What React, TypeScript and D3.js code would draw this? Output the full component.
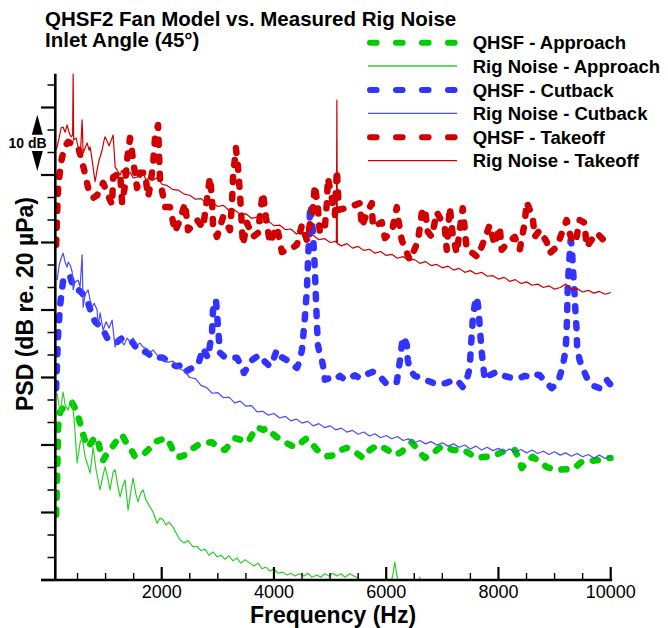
import React from "react";
import * as d3 from "d3";

// ---------- data: [frequency Hz, PSD dB (relative)] ----------
const approachQhsf: [number, number][] = [
  [119, 11.6], [137, 18.3], [146, 22.8], [155, 27.2], [190, 29.9], [279, 31.1], [404, 31.5], [475, 30.2],
  [546, 27.9], [618, 25.2], [689, 23.6], [778, 24.9], [849, 25.4], [902, 23.1], [956, 21.3], [1045, 22.8],
  [1116, 23.6], [1205, 24.9], [1294, 25.8], [1365, 24.5], [1436, 23.5], [1525, 21.9], [1614, 22.2], [1703, 22.6],
  [1792, 23.5], [1846, 24.4], [1971, 24.9], [2095, 25.2], [2166, 23.8], [2237, 22.2], [2326, 21.9], [2415, 22.2],
  [2540, 23.3], [2647, 24.0], [2771, 24.4], [2896, 24.5], [3003, 23.6], [3127, 23.1], [3216, 24.2], [3305, 25.2],
  [3412, 24.9], [3537, 24.5], [3626, 26.1], [3697, 27.2], [3804, 26.7], [3893, 27.0], [3964, 26.1], [4053, 25.4],
  [4142, 24.9], [4249, 24.2], [4373, 23.6], [4480, 24.4], [4587, 25.2], [4694, 24.0], [4818, 22.6], [4943, 22.0],
  [5086, 22.2], [5192, 23.1], [5299, 23.5], [5442, 22.8], [5584, 21.7], [5708, 23.1], [5851, 24.0], [5958, 23.5],
  [6029, 23.1], [6153, 22.2], [6278, 22.8], [6367, 23.8], [6456, 24.5], [6563, 23.1], [6687, 21.7], [6794, 22.2],
  [6901, 23.1], [6990, 23.8], [7079, 23.6], [7186, 23.1], [7275, 23.1], [7364, 22.6], [7435, 22.8], [7524, 22.2],
  [7613, 21.7], [7755, 21.9], [7880, 21.9], [7986, 22.4], [8076, 22.8], [8183, 22.9], [8290, 23.1], [8361, 21.7],
  [8414, 19.9], [8503, 21.0], [8610, 21.9], [8735, 21.0], [8859, 20.1], [8966, 19.7], [9091, 19.6], [9197, 19.7],
  [9269, 19.6], [9375, 20.1], [9482, 21.0], [9624, 21.1], [9731, 21.3], [9838, 21.3], [9945, 21.7], [9998, 21.7],
];

const approachRig: [number, number][] = [
  [137, 33.2], [155, 32.0], [190, 29.7], [226, 32.4], [244, 33.4], [279, 31.1], [333, 30.2], [368, 31.6],
  [404, 32.0], [440, 28.4], [493, 20.8], [546, 24.4], [582, 25.4], [635, 21.9], [671, 20.8], [724, 19.0],
  [778, 23.6], [831, 19.6], [902, 16.0], [956, 18.7], [991, 20.1], [1045, 17.8], [1080, 16.0], [1134, 19.2],
  [1170, 19.6], [1223, 16.4], [1259, 14.8], [1312, 16.9], [1347, 17.8], [1401, 12.4], [1454, 16.0], [1490, 18.1],
  [1543, 15.1], [1579, 13.9], [1632, 15.6], [1668, 16.0], [1721, 14.2], [1792, 13.0], [1846, 12.1], [1917, 10.1],
  [1971, 11.0], [2024, 10.7], [2077, 9.8], [2130, 10.3], [2202, 9.4], [2255, 8.4], [2326, 7.1], [2398, 6.6],
  [2469, 7.0], [2558, 5.9], [2629, 6.0], [2700, 5.2], [2771, 5.5], [2842, 4.4], [2914, 5.0], [2985, 4.1],
  [3056, 4.4], [3127, 3.7], [3198, 4.3], [3270, 3.4], [3341, 3.9], [3412, 3.0], [3483, 3.6], [3572, 3.0],
  [3644, 2.5], [3715, 3.0], [3786, 2.0], [3857, 2.3], [3928, 1.6], [4000, 2.0], [4071, 1.2], [4160, 1.4],
  [4231, 0.9], [4302, 1.2], [4373, 0.7], [4462, 1.1], [4534, 0.7], [4605, 1.2], [4676, 0.5], [4765, 0.9],
  [4836, 0.5], [4907, 1.1], [4978, 0.7], [5050, 1.2], [5121, 0.7], [5192, 1.1], [5264, 0.5], [5353, 1.1],
  [5424, 0.7], [5495, 0.4], [5566, -0.5], [5637, -1.8], [6064, -1.4], [6118, 0.9], [6153, 3.2], [6189, 0.9],
  [6242, -1.4], [6563, -1.8], [6598, 0.5], [6634, -1.8], [6954, -2.1], [10000, -2.0],
];

const cutbackQhsf: [number, number][] = [
  [119, 34.1], [137, 39.1], [155, 43.9], [190, 48.9], [244, 53.3], [315, 54.2], [368, 54.0], [422, 52.1],
  [511, 51.6], [582, 51.0], [689, 49.2], [760, 47.1], [813, 45.9], [938, 44.8], [1045, 42.7], [1134, 42.3],
  [1205, 42.3], [1294, 43.0], [1383, 42.7], [1472, 42.3], [1579, 40.9], [1668, 40.7], [1739, 40.4], [1846, 39.5],
  [1935, 39.6], [2024, 39.5], [2148, 38.6], [2255, 38.0], [2362, 38.2], [2415, 37.0], [2504, 37.5], [2593, 37.9],
  [2647, 38.2], [2736, 41.2], [2825, 39.5], [2860, 41.8], [2896, 43.9], [2914, 48.0], [2967, 49.8], [3003, 45.0],
  [3038, 40.4], [3127, 39.6], [3252, 39.5], [3341, 39.5], [3430, 37.9], [3465, 36.8], [3537, 38.0], [3608, 39.1],
  [3679, 39.6], [3750, 40.0], [3839, 38.8], [3928, 38.0], [4000, 39.5], [4053, 40.9], [4142, 39.6], [4231, 39.1],
  [4320, 38.2], [4409, 37.7], [4462, 39.1], [4498, 40.9], [4516, 42.7], [4552, 46.8], [4587, 51.6], [4605, 56.4],
  [4623, 60.4], [4640, 65.2], [4658, 66.7], [4694, 61.7], [4712, 58.7], [4729, 55.1], [4747, 50.3], [4765, 45.7],
  [4783, 41.8], [4818, 40.0], [4854, 39.1], [4889, 37.3], [4907, 35.6], [4996, 35.9], [5086, 35.6], [5175, 36.3],
  [5264, 35.6], [5353, 35.9], [5442, 36.4], [5531, 35.9], [5655, 36.6], [5762, 37.0], [5851, 36.6], [5940, 35.6],
  [6011, 34.8], [6100, 35.0], [6189, 35.2], [6242, 38.8], [6278, 41.8], [6296, 43.2], [6331, 42.7], [6367, 41.8],
  [6385, 39.1], [6420, 37.3], [6509, 36.3], [6634, 35.9], [6741, 35.4], [6848, 35.0], [6954, 34.8], [7061, 35.0],
  [7168, 35.4], [7257, 35.6], [7364, 34.3], [7435, 35.6], [7488, 37.7], [7506, 40.9], [7524, 43.6], [7542, 46.2],
  [7577, 48.9], [7613, 50.3], [7648, 48.0], [7666, 45.0], [7684, 42.7], [7702, 40.5], [7737, 37.3], [7755, 35.6],
  [7844, 36.4], [7969, 37.0], [8076, 36.4], [8165, 36.1], [8254, 35.9], [8379, 35.9], [8468, 36.3], [8557, 36.1],
  [8646, 36.6], [8735, 36.4], [8842, 35.2], [8948, 34.1], [9055, 35.0], [9144, 37.9], [9197, 40.9], [9215, 44.4],
  [9224, 47.5], [9233, 51.6], [9251, 55.1], [9269, 57.8], [9286, 60.4], [9304, 59.6], [9322, 56.5], [9340, 53.3],
  [9357, 50.7], [9375, 47.1], [9393, 44.4], [9402, 41.4], [9446, 39.1], [9517, 37.3], [9589, 35.6], [9695, 34.5],
  [9802, 34.1], [9873, 34.8], [9927, 35.6], [9998, 34.7],
];

const cutbackRig: [number, number][] = [
  [137, 53.3], [173, 56.0], [208, 57.2], [244, 58.1], [279, 56.5], [315, 55.6], [333, 56.5], [368, 56.0],
  [404, 54.8], [422, 51.6], [457, 53.0], [511, 53.3], [546, 52.1], [582, 57.8], [600, 48.5], [635, 50.7],
  [689, 51.6], [724, 49.8], [760, 48.5], [796, 49.2], [849, 48.0], [867, 45.0], [902, 47.5], [956, 44.4],
  [1009, 45.9], [1063, 44.8], [1116, 46.2], [1170, 41.4], [1205, 43.0], [1259, 42.7], [1330, 41.8], [1383, 43.0],
  [1436, 42.3], [1490, 43.0], [1561, 41.8], [1614, 42.1], [1668, 41.4], [1739, 41.1], [1792, 40.5], [1846, 40.9],
  [1917, 40.0], [2000, 39.6], [2100, 38.7], [2200, 38.9], [2300, 37.6], [2400, 37.2], [2500, 36.0], [2600, 35.8],
  [2700, 34.6], [2800, 34.2], [2900, 33.2], [3000, 33.3], [3100, 32.4], [3200, 32.5], [3300, 31.5], [3400, 31.8],
  [3500, 30.9], [3600, 31.0], [3700, 29.9], [3800, 30.0], [3900, 29.3], [4000, 29.6], [4100, 28.8], [4200, 29.1],
  [4300, 28.3], [4400, 28.6], [4500, 27.9], [4600, 28.2], [4700, 27.4], [4800, 27.8], [4900, 27.1], [5000, 27.4],
  [5100, 26.7], [5200, 27.0], [5300, 26.3], [5400, 26.6], [5500, 25.9], [5600, 26.3], [5700, 25.6], [5800, 26.0],
  [5900, 25.3], [6000, 25.7], [6100, 25.1], [6200, 25.5], [6300, 24.8], [6400, 25.1], [6500, 24.4], [6600, 24.8],
  [6700, 24.2], [6800, 24.6], [6900, 24.0], [7000, 24.4], [7100, 23.8], [7200, 24.2], [7300, 23.6], [7400, 24.0],
  [7500, 23.3], [7600, 23.8], [7700, 23.1], [7800, 23.6], [7900, 23.0], [8000, 23.4], [8100, 22.8], [8200, 23.3],
  [8300, 22.7], [8400, 23.2], [8500, 22.6], [8600, 23.1], [8700, 22.5], [8800, 22.9], [8900, 22.3], [9000, 22.8],
  [9100, 22.2], [9200, 22.6], [9300, 22.0], [9400, 22.5], [9500, 21.9], [9600, 22.3], [9700, 21.7], [9800, 22.2],
  [9900, 21.6], [10000, 22.0],
];

const takeoffQhsf: [number, number][] = [
  [119, 59.6], [137, 65.2], [155, 69.9], [208, 74.3], [262, 76.8], [333, 77.9], [511, 77.0], [582, 74.3],
  [618, 72.9], [689, 69.7], [778, 67.9], [849, 68.4], [956, 70.6], [1045, 68.4], [1116, 66.7], [1134, 71.6],
  [1259, 72.4], [1294, 67.0], [1347, 70.2], [1383, 74.7], [1436, 78.6], [1490, 74.7], [1561, 69.7], [1614, 72.4],
  [1703, 72.4], [1757, 68.1], [1792, 69.9], [1846, 73.8], [1882, 78.8], [1935, 80.9], [1953, 75.6], [1971, 71.1],
  [2059, 66.3], [2148, 66.3], [2237, 61.9], [2326, 64.0], [2415, 67.0], [2469, 62.2], [2558, 63.1], [2629, 64.0],
  [2736, 62.6], [2860, 71.6], [2896, 67.9], [2914, 63.1], [2985, 61.0], [3092, 64.5], [3216, 62.2], [3252, 67.0],
  [3270, 71.5], [3323, 76.8], [3359, 73.4], [3394, 68.8], [3448, 59.6], [3519, 63.5], [3626, 61.0], [3715, 61.7],
  [3768, 66.3], [3804, 68.8], [3857, 64.5], [3928, 59.9], [4053, 62.8], [4142, 58.3], [4320, 59.0], [4409, 59.6],
  [4498, 63.1], [4587, 60.4], [4694, 66.1], [4729, 70.2], [4783, 66.1], [4818, 61.7], [4872, 62.2], [4907, 62.8],
  [4943, 67.0], [4961, 71.5], [5032, 67.9], [5086, 64.9], [5121, 72.9], [5157, 65.8], [5353, 66.3], [5531, 67.0],
  [5566, 62.8], [5655, 65.2], [5744, 67.0], [5762, 62.8], [5922, 63.6], [5976, 60.8], [6100, 61.9], [6189, 66.3],
  [6207, 64.5], [6278, 60.4], [6420, 56.9], [6563, 60.1], [6634, 65.2], [6687, 66.1], [6741, 61.9], [6812, 61.0],
  [6901, 65.4], [7043, 62.8], [7079, 58.7], [7132, 66.3], [7186, 61.3], [7257, 58.1], [7310, 62.2], [7364, 66.1],
  [7435, 58.7], [7542, 58.1], [7631, 57.4], [7844, 63.1], [7933, 59.6], [8022, 62.8], [8058, 58.7], [8165, 59.9],
  [8290, 61.0], [8379, 58.7], [8468, 63.5], [8503, 67.2], [8610, 64.5], [8646, 61.0], [8735, 62.2], [8859, 60.1],
  [8913, 58.1], [9037, 59.2], [9215, 64.0], [9269, 61.7], [9322, 59.9], [9393, 61.0], [9446, 64.0], [9535, 63.5],
  [9571, 59.2], [9749, 61.7], [9927, 59.9], [9998, 59.9],
];

const takeoffRig: [number, number][] = [
  [110, 76.4], [137, 77.0], [173, 78.6], [208, 80.4], [244, 80.5], [279, 79.6], [315, 80.9], [351, 79.5],
  [386, 78.8], [413, 79.1], [422, 90.1], [431, 78.2], [475, 78.6], [493, 77.7], [529, 76.4], [546, 75.2],
  [564, 78.2], [582, 81.8], [600, 75.9], [635, 76.8], [671, 77.7], [707, 76.4], [724, 77.0], [760, 74.7],
  [796, 72.0], [813, 70.8], [849, 72.9], [885, 74.7], [902, 75.2], [938, 76.4], [974, 78.2], [991, 78.8],
  [1027, 78.0], [1063, 77.2], [1080, 77.7], [1116, 78.6], [1134, 79.1], [1152, 76.4], [1170, 73.4], [1205, 72.9],
  [1259, 72.0], [1294, 72.9], [1330, 71.5], [1383, 71.6], [1436, 72.5], [1490, 71.5], [1561, 71.6], [1614, 72.9],
  [1668, 72.4], [1721, 71.1], [1792, 71.6], [1846, 71.1], [1917, 71.5], [2000, 70.4], [2100, 70.1], [2200, 69.4],
  [2300, 69.3], [2400, 68.6], [2500, 68.4], [2600, 67.7], [2700, 67.8], [2800, 67.0], [2900, 67.1], [3000, 66.4],
  [3100, 66.6], [3200, 65.7], [3300, 65.8], [3400, 65.0], [3500, 65.1], [3600, 64.3], [3700, 64.5], [3800, 63.6],
  [3900, 63.8], [4000, 63.0], [4100, 63.1], [4200, 62.3], [4300, 62.4], [4400, 61.5], [4500, 61.9], [4600, 61.0],
  [4700, 61.3], [4800, 60.5], [4900, 60.7], [5000, 60.0], [5100, 60.2], [5112, 60.0], [5121, 85.3], [5130, 59.8],
  [5200, 59.4], [5300, 59.8], [5400, 59.0], [5500, 59.3], [5600, 58.6], [5700, 58.8], [5800, 58.1], [5900, 58.4],
  [6000, 57.7], [6100, 57.9], [6200, 57.2], [6300, 57.5], [6400, 56.8], [6500, 57.0], [6600, 56.3], [6700, 56.6],
  [6800, 55.9], [6900, 56.1], [7000, 55.5], [7100, 55.8], [7200, 55.1], [7300, 55.4], [7400, 54.7], [7500, 55.0],
  [7600, 54.4], [7700, 54.7], [7800, 54.0], [7900, 54.1], [8000, 53.5], [8100, 53.8], [8200, 53.1], [8300, 53.4],
  [8400, 52.7], [8500, 53.0], [8600, 52.4], [8700, 52.6], [8800, 52.0], [8900, 52.3], [9000, 51.7], [9100, 52.0],
  [9200, 52.6], [9300, 51.6], [9400, 51.8], [9500, 51.2], [9600, 51.5], [9700, 51.0], [9800, 51.3], [9900, 50.8],
  [10000, 51.1],
];

const xTickLabels = [2000, 4000, 6000, 8000, 10000];
const titleLines = ["QHSF2 Fan Model vs. Measured Rig Noise", "Inlet Angle (45°)"];
const legendLabels = [
  "QHSF - Approach", "Rig Noise - Approach", "QHSF - Cutback",
  "Rig Noise - Cutback", "QHSF - Takeoff", "Rig Noise - Takeoff",
];

const FONT = "'Liberation Sans', Arial, Helvetica, sans-serif";

export default function App() {
  const W = 668, H = 628;
  const x = d3.scaleLinear().domain([104, 10000]).range([55.3, 610.7]);
  const y = d3.scaleLinear().domain([0, 90]).range([580, 73.75]);
  const line = d3.line<[number, number]>().x(d => x(d[0])).y(d => y(d[1]));

  const series = [
    { data: approachQhsf, color: "#00cc00", dashed: true },
    { data: approachRig, color: "#2ecc2e", dashed: false },
    { data: cutbackQhsf, color: "#3333ff", dashed: true },
    { data: cutbackRig, color: "#4a4aff", dashed: false },
    { data: takeoffQhsf, color: "#d00000", dashed: true },
    { data: takeoffRig, color: "#d00000", dashed: false },
  ];

  const yTicks = d3.range(0, 89, 4);
  const xMinor = d3.range(500, 10000, 500).filter(v => v % 2000 !== 0);

  const x0 = x.range()[0], x1 = x.range()[1];
  const yb = y(0), yt = y(90);

  const legendY = [42.7, 66, 90, 113.3, 137.3, 160.7];

  const annC = 77.7;
  const ax = 37.3;

  return (
    <svg width={W} height={H} style={{ position: "absolute", left: 0, top: 0, background: "#fff" }}
      fontFamily={FONT}>
      <defs>
        <clipPath id="plotClip">
          <rect x={x0} y={yt} width={x1 - x0 + 4} height={yb - yt} />
        </clipPath>
      </defs>
      <rect x={0} y={0} width={W} height={H} fill="#fff" />

      {/* title */}
      {titleLines.map((t, i) => (
        <text key={t} x={45} y={25.7 + i * 21.6} fontSize={20.5} fontWeight="bold" fill="#000">{t}</text>
      ))}

      {/* series */}
      <g clipPath="url(#plotClip)">
        {series.map((s, i) => (
          <path key={i} d={line(s.data) || ""} fill="none" stroke={s.color}
            strokeWidth={s.dashed ? 6.5 : 1.2}
            strokeDasharray={s.dashed ? "5 12" : undefined}
            strokeLinecap={s.dashed ? "round" : "butt"}
            strokeLinejoin="round" />
        ))}
      </g>

      {/* axes */}
      <line x1={41} x2={x1 + 1.5} y1={yb} y2={yb} stroke="#000" strokeWidth={2.6} />
      <line x1={x0} x2={x0} y1={yt} y2={yb} stroke="#000" strokeWidth={2.6} />
      {yTicks.map(t => {
        const major = t % 12 === 0;
        return <line key={t} x1={major ? 41 : 47.5} x2={x0} y1={y(t)} y2={y(t)} stroke="#000"
          strokeWidth={major ? 2.2 : 1.5} />;
      })}
      {xTickLabels.map(t => (
        <g key={t}>
          <line x1={x(t)} x2={x(t)} y1={yb} y2={yb - 13} stroke="#000" strokeWidth={2.2} />
          <text x={x(t)} y={598} fontSize={18} textAnchor="middle" fill="#000">{t}</text>
        </g>
      ))}
      {xMinor.map(t => (
        <line key={t} x1={x(t)} x2={x(t)} y1={yb} y2={yb - 7} stroke="#000" strokeWidth={1.4} />
      ))}

      {/* axis titles */}
      <text x={333} y={622.5} fontSize={23} fontWeight="bold" textAnchor="middle" fill="#000">Frequency (Hz)</text>
      <text transform="translate(33,304) rotate(-90)" fontSize={23} fontWeight="bold" textAnchor="middle" fill="#000">
        PSD (dB re. 20 µPa)
      </text>

      {/* 10 dB annotation */}
      <path d={`M${ax},${y(annC + 5)} L${ax + 5.5},${y(annC + 5) + 20} L${ax - 5.5},${y(annC + 5) + 20} Z`} fill="#000" />
      <path d={`M${ax},${y(annC - 5)} L${ax + 5.5},${y(annC - 5) - 20} L${ax - 5.5},${y(annC - 5) - 20} Z`} fill="#000" />
      <text x={27.5} y={y(annC) + 5} fontSize={14} fontWeight="bold" textAnchor="middle" fill="#000">10 dB</text>

      {/* legend */}
      {series.map((s, i) => (
        <g key={i}>
          {s.dashed ? (
            <line x1={370} x2={456} y1={legendY[i]} y2={legendY[i]} stroke={s.color} strokeWidth={6}
              strokeDasharray="6.6 19.4" strokeLinecap="round" />
          ) : (
            <line x1={368} x2={457} y1={legendY[i]} y2={legendY[i]} stroke={s.color} strokeWidth={1.3} />
          )}
          <text x={472.7} y={legendY[i] + 6.6} fontSize={18.5} fontWeight="bold" fill="#000">{legendLabels[i]}</text>
        </g>
      ))}
    </svg>
  );
}
